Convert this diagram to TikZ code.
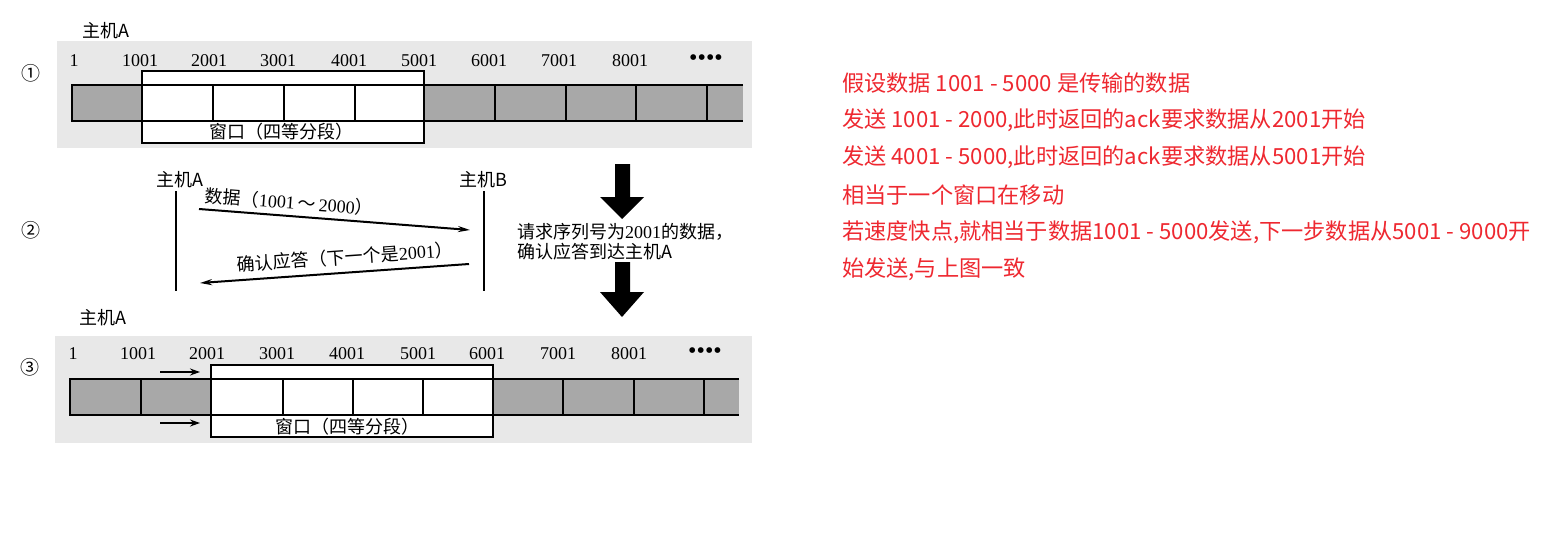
\documentclass[tikz,border=0pt]{standalone}
\usepackage{fontspec}
\setmainfont{Liberation Serif}
\newfontfamily\cjk{Noto Sans CJK SC}
\usetikzlibrary{arrows.meta}
\definecolor{redtxt}{RGB}{238,40,48}
\definecolor{bggray}{RGB}{232,232,232}
\definecolor{cellgray}{RGB}{168,168,168}
\begin{document}
\begin{tikzpicture}[x=1pt,y=-1pt,
  lbl/.style={font=\fontsize{18}{18}\selectfont, inner sep=0pt},
  dots/.style={font=\fontsize{24}{24}\selectfont, inner sep=0pt},
  circ/.style={font=\cjk\fontsize{19}{19}\selectfont, inner sep=0pt},
  note/.style={font=\cjk\fontsize{22.2}{22.2}\selectfont, text=redtxt, anchor=west, inner sep=0pt},
  barline/.style={line width=1.8pt},
  winbox/.style={line width=1.8pt, fill=white},
  lifeline/.style={line width=2.2pt},
  msg/.style={line width=2pt, -{Stealth[length=12pt,width=6pt]}},
  shift arrow/.style={line width=2.2pt, -{Stealth[length=10pt,width=7pt]}},
  bigarrow/.style={fill=black}
]
\useasboundingbox (0,0) rectangle (1548,543);

% ---------- panel 1 ----------
\fill[bggray] (57,41) rectangle (752,148);
\node[lbl] (hA1) at (106,31) {\cjk 主机A};
\node[circ] (c1) at (31,73) {①};
\foreach \x/\t [count=\i] in {74/1,140/1001,209/2001,278/3001,349/4001,419/5001,489/6001,559/7001,630/8001}
  \node[lbl] (pa\i) at (\x,61) {\t};
\node[dots] (pad) at (706,60) {\char"2022\char"2022\char"2022\char"2022};
\fill[cellgray] (72,85) rectangle (743,121);
\draw[winbox] (142,71) rectangle (424,143);
\draw[barline] (743,85) -- (72,85) -- (72,121) -- (743,121);
\foreach \x in {213,284,355,495,566,636,707}
  \draw[barline] (\x,85) -- (\x,121);
\draw[line width=1.8pt] (142,71) rectangle (424,143);
\node[lbl] (w1) at (281,132) {\cjk 窗口（四等分段）};

% ---------- panel 2 ----------
\node[circ] (c2) at (31,230) {②};
\node[lbl] (hA2) at (180,180) {\cjk 主机A};
\node[lbl] (hB2) at (483,180) {\cjk 主机B};
\coordinate (a1) at (176,191);
\coordinate (a2) at (176,291);
\coordinate (b1) at (484,191);
\coordinate (b2) at (484,291);
\draw[lifeline] (a1) -- (a2);
\draw[lifeline] (b1) -- (b2);
\coordinate (d1) at (199,209);
\coordinate (d2) at (470,230);
\coordinate (k1) at (469,264);
\coordinate (k2) at (200,283);
\draw[msg] (d1) -- (d2);
\draw[msg] (k1) -- (k2);
\node[lbl, rotate=-4.3] (dl) at (289,202) {{\cjk 数据（}1001\,{\cjk \char"FF5E}\,2000{\cjk ）}};
\node[lbl, rotate=4] (kl) at (345,257) {{\cjk 确认应答（下一个是}2001{\cjk ）}};
\node[lbl, anchor=west] (r1) at (517,232) {{\cjk 请求序列号为}2001{\cjk 的数据，}};
\node[lbl, anchor=west] (r2) at (517,252) {{\cjk 确认应答到达主机A}};
\fill[bigarrow] (615,164) -- (630,164) -- (630,197) -- (644,197) -- (622,219) -- (600,197) -- (615,197) -- cycle;
\fill[bigarrow] (615,262) -- (630,262) -- (630,292) -- (644,292) -- (622,317) -- (600,292) -- (615,292) -- cycle;

% ---------- panel 3 ----------
\fill[bggray] (55,336) rectangle (752,443);
\node[lbl] (hA3) at (103,318) {\cjk 主机A};
\node[circ] (c3) at (30,367) {③};
\foreach \x/\t [count=\i] in {73/1,138/1001,207/2001,277/3001,347/4001,418/5001,487/6001,558/7001,629/8001}
  \node[lbl] (pc\i) at (\x,354) {\t};
\node[dots] (pcd) at (705,353) {\char"2022\char"2022\char"2022\char"2022};
\fill[cellgray] (70,379) rectangle (739,415);
\draw[winbox] (211,365) rectangle (493,437);
\draw[barline] (739,379) -- (70,379) -- (70,415) -- (739,415);
\foreach \x in {141,283,353,423,563,634,704}
  \draw[barline] (\x,379) -- (\x,415);
\draw[line width=1.8pt] (211,365) rectangle (493,437);
\node[lbl] (w3) at (347,427) {\cjk 窗口（四等分段）};
\coordinate (s1) at (160,372);
\coordinate (s2) at (200,372);
\coordinate (s3) at (160,423);
\coordinate (s4) at (200,423);
\draw[shift arrow] (s1) -- (s2);
\draw[shift arrow] (s3) -- (s4);

% ---------- notes ----------
\node[note] (t1) at (842,83) {假设数据 1001 - 5000 是传输的数据};
\node[note] (t2) at (842,120) {发送 1001 - 2000,此时返回的ack要求数据从2001开始};
\node[note] (t3) at (842,157) {发送 4001 - 5000,此时返回的ack要求数据从5001开始};
\node[note] (t4) at (842,195) {相当于一个窗口在移动};
\node[note] (t5) at (842,232) {若速度快点,就相当于数据1001 - 5000发送,下一步数据从5001 - 9000开};
\node[note] (t6) at (842,269) {始发送,与上图一致};
\end{tikzpicture}
\end{document}
